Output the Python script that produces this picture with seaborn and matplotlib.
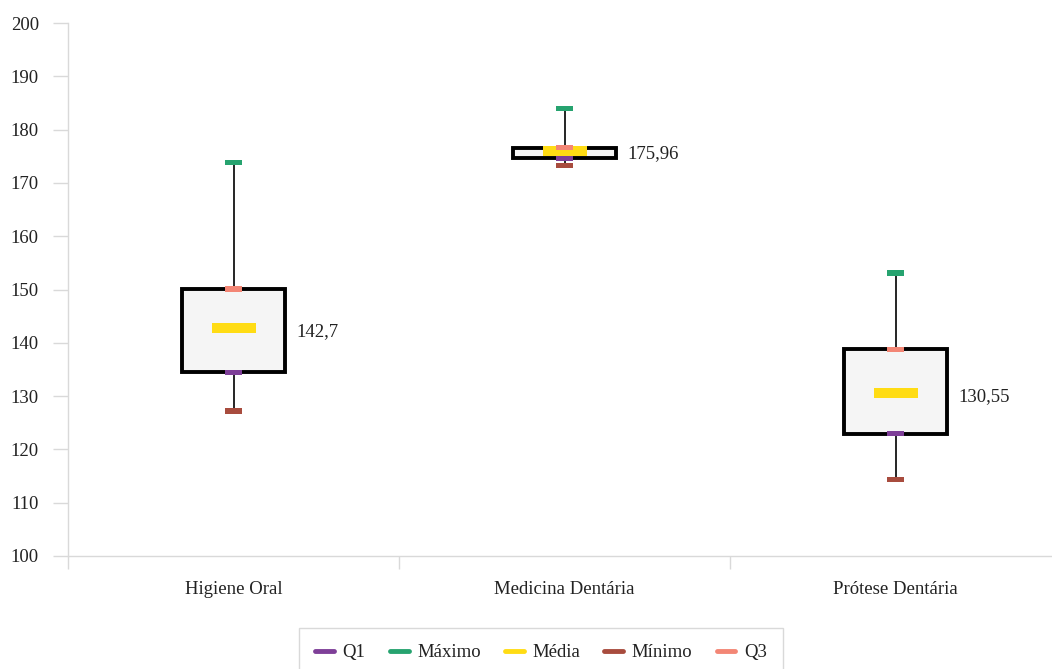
import matplotlib
matplotlib.use('Agg')
import numpy as np
import pandas as pd
import matplotlib.pyplot as plt
import seaborn as sns
from matplotlib.lines import Line2D

# === 數據 ===
cursos = ['Higiene Oral', 'Medicina Dentária', 'Prótese Dentária']
minimo = [127.2, 173.2, 114.4]
q1 = [134.5, 174.6, 122.9]
media = [142.7, 175.96, 130.55]
q3 = [150.1, 176.6, 138.8]
maximo = [173.9, 184.0, 153.1]
media_labels = ['142,7', '175,96', '130,55']

stat_names = ['Q1', 'Máximo', 'Média', 'Mínimo', 'Q3']
stat_colors = {'Q1': '#7e3f98', 'Máximo': '#26a36f', 'Média': '#ffdc14',
               'Mínimo': '#a84c3e', 'Q3': '#f38675'}

sns.set_theme(style='white')
plt.rcParams['font.family'] = ['Liberation Serif', 'DejaVu Serif']

fig = plt.figure(figsize=(10.52, 6.69), dpi=100)
ax = fig.add_axes([68 / 1052, 1 - 556 / 669, (1061 - 68) / 1052, (556 - 23) / 669])

# 盒子
stats = []
for i in range(len(cursos)):
    stats.append({'whislo': minimo[i], 'q1': q1[i], 'med': media[i],
                  'q3': q3[i], 'whishi': maximo[i], 'fliers': []})
ax.bxp(stats, positions=range(len(cursos)), widths=0.31, showcaps=False,
       showfliers=False, patch_artist=True,
       boxprops=dict(facecolor='#f5f5f5', edgecolor='black', linewidth=2.8),
       whiskerprops=dict(color='black', linewidth=1.2),
       medianprops=dict(linewidth=0))

# 標記
rect_small = [(-1.7, -0.5), (1.7, -0.5), (1.7, 0.5), (-1.7, 0.5)]
rect_big = [(-2.15, -0.5), (2.15, -0.5), (2.15, 0.5), (-2.15, 0.5)]

df_media = pd.DataFrame({'curso': cursos, 'valor': media})
sns.scatterplot(data=df_media, x='curso', y='valor', ax=ax, marker=rect_big,
                s=31 ** 2, color=stat_colors['Média'], linewidth=0, zorder=4)

rows = []
for nome, vals in [('Mínimo', minimo), ('Máximo', maximo), ('Q1', q1), ('Q3', q3)]:
    for c, v in zip(cursos, vals):
        rows.append({'curso': c, 'valor': v, 'stat': nome})
df_pts = pd.DataFrame(rows)
sns.scatterplot(data=df_pts, x='curso', y='valor', hue='stat', palette=stat_colors,
                ax=ax, marker=rect_small, s=12.5 ** 2, linewidth=0, zorder=5,
                legend=False)

# 平均值標籤
for i, lab in enumerate(media_labels):
    ax.text(i + 0.19, media[i] - 0.55, lab, va='center', ha='left', fontsize=13.5,
            color='#222222')

# 軸設定
ax.set_xlim(-0.5, 2.5)
ax.set_ylim(100, 200)
ax.set_yticks(np.arange(100, 201, 10))
ax.set_xticks(range(len(cursos)))
ax.set_xticklabels(cursos)
ax.set_xticks([-0.5, 0.5, 1.5, 2.5], minor=True)
ax.set_xlabel('')
ax.set_ylabel('')
for s in ['top', 'right']:
    ax.spines[s].set_visible(False)
for s in ['left', 'bottom']:
    ax.spines[s].set_color('#d9d9d9')
    ax.spines[s].set_linewidth(1.0)
ax.tick_params(axis='y', which='major', left=True, length=11, color='#d9d9d9',
               width=1.0, labelsize=13.5, pad=10, labelcolor='#222222')
ax.tick_params(axis='x', which='major', bottom=False, length=0, labelsize=13.5,
               pad=18, labelcolor='#222222')
ax.tick_params(axis='x', which='minor', bottom=True, length=9, color='#d9d9d9',
               width=1.0)

# 圖例
handles = [Line2D([0], [0], color=stat_colors[n], linewidth=3.5) for n in stat_names]
leg = fig.legend(handles, stat_names, loc='upper center', ncol=5,
                 bbox_to_anchor=(541 / 1052, 1 - 628 / 669), frameon=True,
                 fancybox=False, edgecolor='#d9d9d9', fontsize=13.5,
                 handlelength=1.0, handletextpad=0.45, columnspacing=1.3,
                 borderpad=0.87, borderaxespad=0, framealpha=1)
for t in leg.get_texts():
    t.set_color('#222222')

fig.savefig('out.png', dpi=100)
